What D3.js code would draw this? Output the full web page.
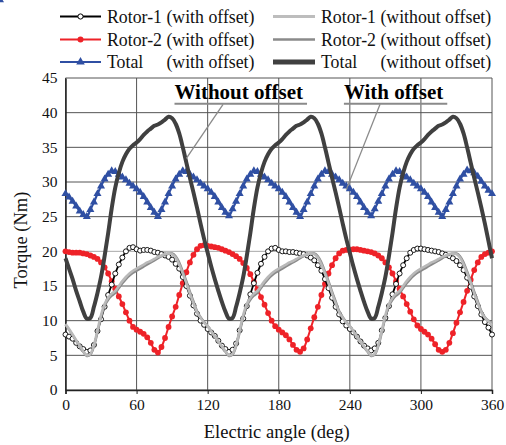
<!DOCTYPE html>
<html><head><meta charset="utf-8">
<script src="https://cdn.jsdelivr.net/npm/d3@7"></script>
<style>
body{margin:0;background:#fff;}
svg{display:block;font-family:"Liberation Serif","Times New Roman",serif;}
</style></head>
<body><svg id="c" width="506" height="445"></svg>
<script>
// ---- data ----
const angles = d3.range(0, 361, 3); // electric angle (deg)
const xTicks = [0, 60, 120, 180, 240, 300, 360];
const yTicks = [0, 5, 10, 15, 20, 25, 30, 35, 40, 45];

const rotor1With = [
 8.0,7.7,7.4,6.8,6.3,5.9,5.5,5.7,6.5,8.5,10.2,12.0,13.7,15.2,16.8,18.1,19.1,20.0,20.5,20.6,20.3,20.1,20.2,20.2,20.1,19.9,19.8,19.6,19.4,19.2,18.8,18.2,17.5,16.3,15.0,13.6,12.2,11.0,10.0,9.4,
 8.8,8.3,7.8,7.1,6.4,5.9,5.5,5.8,6.7,8.6,10.3,12.1,13.8,15.4,16.9,18.2,19.2,20.0,20.4,20.5,20.2,20.0,20.0,19.9,19.9,19.8,19.7,19.6,19.4,19.1,18.7,18.0,17.2,16.0,14.7,13.3,12.0,10.9,9.9,9.3,
 8.8,8.3,7.7,7.0,6.4,6.0,5.7,6.0,6.8,8.6,10.4,12.1,13.8,15.3,16.8,18.0,19.0,19.8,20.2,20.4,20.4,20.3,20.2,20.1,20.0,19.9,19.7,19.5,19.3,19.0,18.6,18.0,17.3,16.2,14.9,13.5,12.1,10.9,9.8,9.0,
 8.0];
const rotor2With = [
 20.0,19.9,19.8,19.8,19.8,19.7,19.6,19.4,19.2,18.9,18.4,17.7,16.8,15.7,14.6,13.5,12.4,11.2,10.0,9.1,8.7,8.4,8.1,7.6,6.8,5.8,5.4,6.2,7.5,9.1,10.6,12.0,13.7,15.4,17.0,18.4,19.5,20.3,20.8,20.9,
 20.8,20.7,20.6,20.5,20.3,20.1,19.9,19.6,19.3,18.9,18.3,17.6,16.7,15.6,14.5,13.4,12.3,11.1,10.0,9.2,8.7,8.3,7.9,7.3,6.5,5.8,5.5,6.0,7.3,8.9,10.5,12.0,13.7,15.3,16.8,18.0,19.0,19.7,20.1,20.2,
 20.2,20.3,20.3,20.2,20.1,20.0,19.9,19.7,19.4,19.0,18.4,17.7,16.8,15.7,14.6,13.5,12.4,11.3,10.2,9.3,8.8,8.4,8.0,7.4,6.6,5.8,5.5,5.8,6.8,8.2,9.7,11.2,12.7,14.3,15.9,17.3,18.4,19.2,19.6,19.8,
 20.0];
const totalWith = [
 28.3,27.8,27.2,26.5,25.8,25.3,
 25.0,26.0,27.1,28.3,29.4,30.4,31.1,31.6,31.5,31.1,30.7,30.3,29.8,29.4,29.0,28.5,27.9,27.1,26.3,25.6,
 25.0,26.0,27.1,28.3,29.4,30.4,31.1,31.6,31.5,31.1,30.7,30.3,29.8,29.4,29.0,28.5,27.9,27.1,26.3,25.6,
 25.1,26.1,27.2,28.3,29.4,30.4,31.1,31.6,31.5,31.1,30.7,30.3,29.8,29.4,29.0,28.5,27.9,27.1,26.3,25.6,
 25.0,26.0,27.1,28.3,29.4,30.4,31.1,31.6,31.5,31.1,30.7,30.3,29.8,29.4,29.0,28.5,27.9,27.1,26.3,25.6,
 25.1,26.1,27.2,28.3,29.4,30.4,31.1,31.6,31.5,31.1,30.7,30.3,29.8,29.4,29.0,28.5,27.9,27.1,26.3,25.6,
 25.0,26.0,27.1,28.3,29.4,30.4,31.1,31.7,31.6,31.3,30.8,30.1,29.4,28.8,28.3,
 27.9];
const rotor1Without = [
 9.5,8.8,8.0,7.2,6.4,5.6,5.0,5.2,6.5,8.6,10.8,12.4,13.3,13.9,14.3,15.0,15.7,16.3,16.8,17.2,17.5,17.8,18.1,18.4,18.6,18.9,19.2,19.4,19.6,19.7,19.6,19.1,18.1,16.8,15.4,13.9,12.5,11.2,10.4,9.7,
 9.2,8.5,7.7,7.0,6.3,5.6,5.0,5.2,6.5,8.6,10.8,12.4,13.3,13.9,14.3,15.0,15.7,16.3,16.8,17.2,17.5,17.8,18.1,18.4,18.6,18.9,19.2,19.4,19.6,19.7,19.6,19.1,18.1,16.8,15.4,13.9,12.5,11.2,10.4,9.7,
 9.2,8.5,7.7,7.0,6.3,5.6,5.0,5.2,6.5,8.6,10.8,12.4,13.3,13.9,14.3,15.0,15.7,16.3,16.8,17.2,17.5,17.8,18.1,18.4,18.6,18.9,19.2,19.4,19.6,19.7,19.6,19.1,18.1,16.8,15.4,13.9,12.5,11.2,10.4,9.9,
 9.4];
const rotor2Without = [
 9.4,8.7,7.9,7.1,6.3,5.5,4.9,5.1,6.3,8.3,10.5,12.1,13.0,13.6,14.0,14.7,15.4,16.0,16.5,16.9,17.2,17.5,17.8,18.1,18.4,18.7,19.0,19.3,19.5,19.7,19.7,19.3,18.4,17.1,15.7,14.2,12.8,11.4,10.5,9.8,
 9.2,8.5,7.7,7.0,6.2,5.5,4.9,5.1,6.3,8.3,10.5,12.1,13.0,13.6,14.0,14.7,15.4,16.0,16.5,16.9,17.2,17.5,17.8,18.1,18.4,18.7,19.0,19.3,19.5,19.7,19.7,19.3,18.4,17.1,15.7,14.2,12.8,11.4,10.5,9.8,
 9.2,8.5,7.7,7.0,6.2,5.5,4.9,5.1,6.3,8.3,10.5,12.1,13.0,13.6,14.0,14.7,15.4,16.0,16.5,16.9,17.2,17.5,17.8,18.1,18.4,18.7,19.0,19.3,19.5,19.7,19.7,19.3,18.4,17.1,15.7,14.2,12.8,11.4,10.5,10.0,
 9.5];
const totalWithout = [
 19.0,17.5,16.0,14.3,12.8,11.3,10.3,10.4,12.0,14.0,16.3,19.3,22.6,26.2,29.2,31.3,32.9,34.0,34.8,35.3,35.7,36.2,36.8,37.3,37.7,38.1,38.3,38.6,39.0,39.4,39.2,38.4,37.0,35.0,32.8,30.6,28.5,26.3,24.0,21.8,
 19.8,17.8,16.0,14.3,12.7,11.3,10.3,10.4,12.0,14.0,16.3,19.3,22.6,26.2,29.2,31.3,32.9,34.0,34.8,35.3,35.7,36.2,36.8,37.3,37.7,38.1,38.3,38.6,39.0,39.4,39.2,38.4,37.0,35.0,32.8,30.6,28.5,26.3,24.0,21.8,
 19.8,17.8,16.0,14.3,12.7,11.3,10.3,10.4,12.0,14.0,16.3,19.3,22.6,26.2,29.2,31.3,32.9,34.0,34.8,35.3,35.7,36.2,36.8,37.3,37.7,38.1,38.3,38.6,39.0,39.4,39.2,38.4,37.0,35.0,32.8,30.6,28.5,26.3,24.0,21.5,
 19.0];

const legendLabels = ["Rotor-1", "Rotor-2", "Total", "Rotor-1", "Rotor-2", "Total"];
const legendTags = ["(with offset)", "(with offset)", "(with offset)", "(without offset)", "(without offset)", "(without offset)"];
const annotations = [
  {text: "Without offset", tx: 92, ty: 42.0, lx1: 133, ly1: 41.2, lx2: 102, ly2: 33.4},
  {text: "With offset",    tx: 235, ty: 42.0, lx1: 265.5, ly1: 41.2, lx2: 237, ly2: 28.9}
];

// ---- chart ----
const FONT = '"Liberation Serif","Times New Roman",serif';
const svg = d3.select("#c");
const L = 65.5, R = 492, T = 78, B = 390;
const x = d3.scaleLinear().domain([0, 360]).range([L, R]);
const y = d3.scaleLinear().domain([0, 45]).range([B, T]);

// grid
const gGrid = svg.append("g");
gGrid.selectAll("line.h").data(yTicks).join("line")
  .attr("x1", L).attr("x2", R).attr("y1", d => y(d)).attr("y2", d => y(d))
  .attr("stroke", d => d === 20 ? "#a8a8a8" : "#555").attr("stroke-width", 1);
gGrid.selectAll("line.v").data(xTicks).join("line")
  .attr("y1", T).attr("y2", B).attr("x1", d => x(d)).attr("x2", d => x(d))
  .attr("stroke", "#555").attr("stroke-width", 1);

// axes
const ax = svg.append("g").attr("transform", `translate(0,${B})`)
  .call(d3.axisBottom(x).tickValues(xTicks).tickSize(4).tickPadding(5).tickFormat(d3.format("d")));
const ay = svg.append("g").attr("transform", `translate(${L},0)`)
  .call(d3.axisLeft(y).tickValues(yTicks).tickSize(0).tickPadding(8).tickFormat(d3.format("d")));
[ax, ay].forEach(g => {
  g.attr("font-family", FONT);
  g.selectAll("text").attr("font-family", FONT).attr("font-size", 15.5).attr("fill", "#111");
  g.select(".domain").attr("stroke", "#222").attr("stroke-width", 1.5);
  g.selectAll(".tick line").attr("stroke", "#222");
});
svg.append("text").attr("x", (L + R) / 2 - 2).attr("y", 438).attr("text-anchor", "middle")
  .attr("font-family", FONT).attr("font-size", 18.5).attr("fill", "#111").text("Electric angle (deg)");
svg.append("text").attr("transform", `translate(27,${(T + B) / 2 + 6}) rotate(-90)`)
  .attr("font-family", FONT).attr("text-anchor", "middle").attr("font-size", 18.5).attr("fill", "#111").text("Torque (Nm)");

const line = arr => d3.line().x((d, i) => x(angles[i])).y(d => y(d)).curve(d3.curveCatmullRom)(arr);
const plot = svg.append("g");

// red rotor-2 with offset
plot.append("path").attr("d", line(rotor2With)).attr("fill", "none").attr("stroke", "#ee2228").attr("stroke-width", 2);
plot.append("g").selectAll("circle").data(rotor2With).join("circle")
  .attr("cx", (d, i) => x(angles[i])).attr("cy", d => y(d)).attr("r", 2.9).attr("fill", "#ee2228");

// blue total with offset
plot.append("path").attr("d", line(totalWith)).attr("fill", "none").attr("stroke", "#2f4fa3").attr("stroke-width", 2.2);
plot.append("g").selectAll("path").data(totalWith).join("path")
  .attr("transform", (d, i) => `translate(${x(angles[i])},${y(d)})`)
  .attr("d", d3.symbol(d3.symbolTriangle, 28)).attr("fill", "#2f4fa3");

// black rotor-1 with offset
plot.append("path").attr("d", line(rotor1With)).attr("fill", "none").attr("stroke", "#000").attr("stroke-width", 1.8);
plot.append("g").selectAll("circle").data(rotor1With).join("circle")
  .attr("cx", (d, i) => x(angles[i])).attr("cy", d => y(d)).attr("r", 2.5)
  .attr("fill", "#fff").attr("stroke", "#000").attr("stroke-width", 0.9);

// without offset lines
plot.append("path").attr("d", line(rotor2Without)).attr("fill", "none").attr("stroke", "#8a8a8a").attr("stroke-width", 2.4);
plot.append("path").attr("d", line(rotor1Without)).attr("fill", "none").attr("stroke", "#b9b9b9").attr("stroke-width", 2.6);
plot.append("path").attr("d", line(totalWithout)).attr("fill", "none").attr("stroke", "#404040").attr("stroke-width", 4);

// annotations
annotations.forEach(a => {
  const t = svg.append("text").attr("x", x(a.tx)).attr("y", y(a.ty)).attr("font-size", 21)
    .attr("font-family", FONT).attr("font-weight", "bold").attr("fill", "#000").text(a.text);
  const w = t.node().getComputedTextLength();
  svg.append("line").attr("x1", x(a.tx)).attr("x2", x(a.tx) + w + 4).attr("y1", y(a.ty) + 5).attr("y2", y(a.ty) + 5)
    .attr("stroke", "#8a8a8a").attr("stroke-width", 2);
  svg.append("line").attr("x1", x(a.lx1)).attr("y1", y(a.ly1)).attr("x2", x(a.lx2)).attr("y2", y(a.ly2))
    .attr("stroke", "#8a8a8a").attr("stroke-width", 1.3);
});

// legend
const legStyles = [
  {c: "#000", w: 2, m: "circle"},
  {c: "#ee2228", w: 2, m: "dot"},
  {c: "#2f4fa3", w: 2, m: "tri"},
  {c: "#bdbdbd", w: 3, m: null},
  {c: "#8a8a8a", w: 2.5, m: null},
  {c: "#404040", w: 5, m: null}
];
const legY = [16.5, 39.5, 62];
const LFS = 17.8;
// measure tag offset from "Rotor-1 " width
const probe = svg.append("text").attr("font-family", FONT).attr("font-size", LFS).attr("xml:space", "preserve").text("Rotor-1\u00a0");
const tagOff = probe.node().getComputedTextLength();
probe.remove();
legendLabels.forEach((lab, i) => {
  const col = i < 3 ? 0 : 1, row = i % 3;
  const x0 = col ? 273 : 60, x1 = col ? 315 : 101, tx = col ? 321 : 107;
  const yy = legY[row], s = legStyles[i];
  const g = svg.append("g");
  g.append("line").attr("x1", x0).attr("x2", x1).attr("y1", yy).attr("y2", yy).attr("stroke", s.c).attr("stroke-width", s.w);
  const mx = (x0 + x1) / 2;
  if (s.m === "circle") g.append("circle").attr("cx", mx).attr("cy", yy).attr("r", 2.6).attr("fill", "#fff").attr("stroke", "#000");
  if (s.m === "dot") g.append("circle").attr("cx", mx).attr("cy", yy).attr("r", 3).attr("fill", s.c);
  if (s.m === "tri") g.append("path").attr("transform", `translate(${mx},${yy})`).attr("d", d3.symbol(d3.symbolTriangle, 32)).attr("fill", s.c);
  g.append("text").attr("x", tx).attr("y", yy + 6).attr("font-family", FONT).attr("font-size", LFS).attr("fill", "#111").text(lab);
  g.append("text").attr("x", tx + tagOff).attr("y", yy + 6).attr("font-family", FONT).attr("font-size", LFS).attr("fill", "#111").text(legendTags[i]);
});
</script>
</body></html>
